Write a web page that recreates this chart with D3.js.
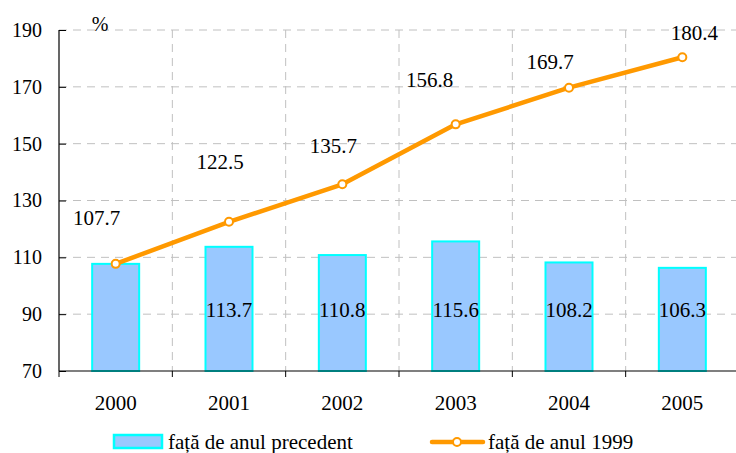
<!DOCTYPE html>
<html><head><meta charset="utf-8">
<script src="https://cdn.jsdelivr.net/npm/d3@7"></script>
<style>body{margin:0;background:#fff}svg{display:block}</style>
</head><body>
<svg id="c" width="736" height="453"></svg>
<script>
const years = ["2000","2001","2002","2003","2004","2005"];
const prevYear = [107.7,113.7,110.8,115.6,108.2,106.3];
const vs1999 = [107.7,122.5,135.7,156.8,169.7,180.4];
const yTicks = [70,90,110,130,150,170,190];
const seriesNames = ["față de anul precedent","față de anul 1999"];

const FONT = "'Liberation Serif', 'Times New Roman', serif";
const labelOffsets = [[-19,-39],[-9,-53],[-9,-31],[-26,-37],[-19,-19],[12,-17]];

const svg = d3.select("#c");
const L=59, R=739, T=30, B=371;
const x = d3.scaleBand().domain(years).range([L,R]);
const y = d3.scaleLinear().domain([70,190]).range([B,T]);

// gridlines
const g = svg.append("g");
g.selectAll(".hg").data(yTicks.filter(d=>d>70)).join("line")
 .attr("x1",L).attr("x2",R).attr("y1",d=>y(d)).attr("y2",d=>y(d))
 .attr("stroke","#c0c0c0").attr("stroke-dasharray","8,6");
g.selectAll(".vg").data(years.slice(1)).join("line")
 .attr("x1",d=>x(d)).attr("x2",d=>x(d)).attr("y1",T).attr("y2",B)
 .attr("stroke","#c0c0c0").attr("stroke-dasharray","8,6");

// bars
const bw = 47;
svg.selectAll(".bar").data(prevYear).join("rect")
 .attr("x",(d,i)=>x(years[i])+x.bandwidth()/2-bw/2)
 .attr("y",d=>y(d)).attr("width",bw).attr("height",d=>y(70)-y(d))
 .attr("fill","#99c8ff").attr("stroke","#00ffff").attr("stroke-width",2);

// axes
const ya = d3.axisLeft(y).tickValues(yTicks).tickSize(-7).tickPadding(17);
const ax = svg.append("g").attr("transform",`translate(${L},0)`).call(ya);
ax.attr("font-family",null);
ax.selectAll("text").style("font-size","20px").style("font-family",FONT).attr("fill","#000");
ax.selectAll(".tick line").attr("stroke","#000");
ax.select(".domain").attr("stroke","#000").attr("stroke-width",1.2).attr("d",`M0,${T}V${B}`);
const xa = svg.append("g").attr("transform",`translate(0,${B})`);
xa.append("line").attr("x1",L).attr("x2",R).attr("stroke","#000").attr("stroke-width",1.2);
xa.selectAll(".t").data(years.concat(["end"])).join("line")
 .attr("x1",(d,i)=>L+i*x.bandwidth()).attr("x2",(d,i)=>L+i*x.bandwidth())
 .attr("y1",0).attr("y2",6).attr("stroke","#000");
xa.selectAll(".lbl").data(years).join("text")
 .attr("x",d=>x(d)+x.bandwidth()/2).attr("y",39).attr("text-anchor","middle")
 .style("font-size","21px").style("font-family",FONT).text(d=>d);

// bar labels (first bar's value shown with the line label)
svg.selectAll(".bl").data(prevYear.map((d,i)=>({d,i})).filter(o=>o.i>0)).join("text")
 .attr("x",o=>x(years[o.i])+x.bandwidth()/2).attr("y",317)
 .attr("text-anchor","middle").style("font-size","21px").style("font-family",FONT).text(o=>o.d.toFixed(1));

// line
const cx = i=>x(years[i])+x.bandwidth()/2;
svg.append("path").datum(vs1999)
 .attr("d",d3.line().x((d,i)=>cx(i)).y(d=>y(d)))
 .attr("fill","none").attr("stroke","#ff9900").attr("stroke-width",4.5).attr("stroke-linejoin","round");
svg.selectAll(".pt").data(vs1999).join("circle")
 .attr("cx",(d,i)=>cx(i)).attr("cy",d=>y(d)).attr("r",4)
 .attr("fill","#fff").attr("stroke","#ff9900").attr("stroke-width",2);
svg.selectAll(".ll").data(vs1999).join("text")
 .attr("x",(d,i)=>cx(i)+labelOffsets[i][0]).attr("y",(d,i)=>y(d)+labelOffsets[i][1])
 .attr("text-anchor","middle").style("font-size","21px").style("font-family",FONT).text(d=>d.toFixed(1));

svg.append("text").attr("x",100).attr("y",31).attr("text-anchor","middle").style("font-size","20px").style("font-family",FONT).text("%");

// legend
const lg = svg.append("g");
lg.append("rect").attr("x",114).attr("y",435).attr("width",48).attr("height",13)
 .attr("fill","#99c8ff").attr("stroke","#00ffff").attr("stroke-width",2.5);
lg.append("text").attr("x",168).attr("y",449).style("font-size","21px").style("font-family",FONT).text(seriesNames[0]);
lg.append("line").attr("x1",432).attr("x2",483).attr("y1",442).attr("y2",442)
 .attr("stroke","#ff9900").attr("stroke-width",4.5).attr("stroke-linecap","round");
lg.append("circle").attr("cx",457).attr("cy",442).attr("r",4)
 .attr("fill","#fff").attr("stroke","#ff9900").attr("stroke-width",2);
lg.append("text").attr("x",488).attr("y",449).style("font-size","21px").style("font-family",FONT).text(seriesNames[1]);
</script>
</body></html>
